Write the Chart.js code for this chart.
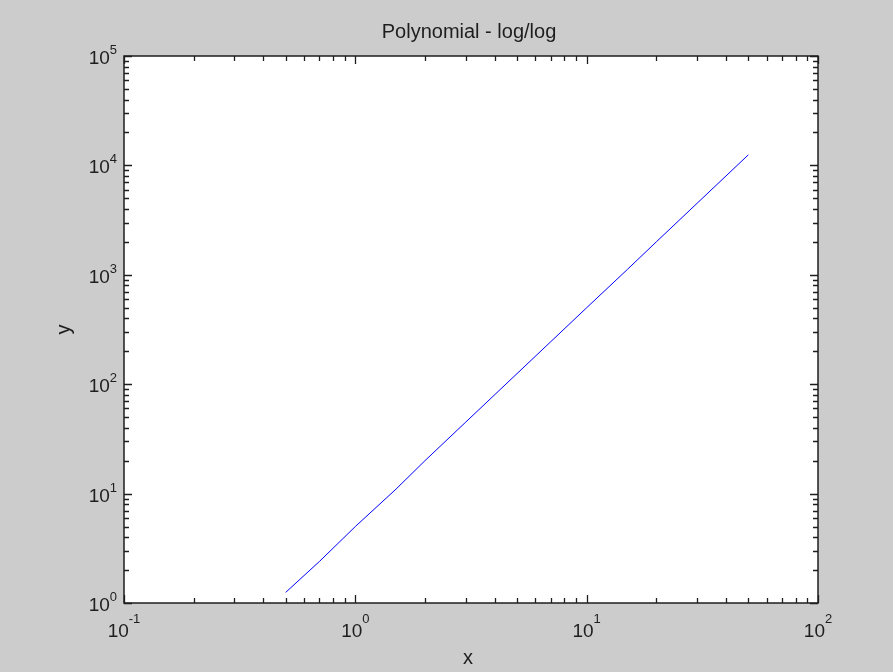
<!DOCTYPE html>
<html>
<head>
<meta charset="utf-8">
<title>Polynomial - log/log</title>
<script src="https://cdn.jsdelivr.net/npm/chart.js@4/dist/chart.umd.min.js"></script>
<style>
  html, body { margin: 0; padding: 0; background: #cccccc; }
  canvas { display: block; }
</style>
</head>
<body>
<canvas id="myChart" width="893" height="672"></canvas>
<script>
// values
const xValues = [0.5, 0.7, 1, 1.5, 2, 3, 5, 7, 10, 15, 20, 30, 50];
const yValues = [1.25, 2.4, 5, 11, 20, 45, 125, 245, 500, 1120, 2000, 4500, 12500];

// decade tick labels (10^n)
const xExponents = [-1, 0, 1, 2];
const yExponents = [0, 1, 2, 3, 4, 5];

const titleText = 'Polynomial - log/log';
const xLabel = 'x';
const yLabel = 'y';

const FONT = '"Liberation Sans", Arial, Helvetica, sans-serif';
const INK = '#1e1e1e';

// minor + major tick values for a log axis
function logTicks(exps) {
  const out = [];
  for (let i = 0; i < exps.length - 1; i++) {
    for (let m = 1; m <= 9; m++) out.push({ v: m * Math.pow(10, exps[i]), major: m === 1 });
  }
  out.push({ v: Math.pow(10, exps[exps.length - 1]), major: true });
  return out;
}

const matlabAxes = {
  id: 'matlabAxes',
  beforeDraw(chart) {
    const { ctx, chartArea: a } = chart;
    ctx.save();
    ctx.fillStyle = '#ffffff';
    ctx.fillRect(a.left, a.top, a.right - a.left, a.bottom - a.top);
    ctx.restore();
  },
  afterDraw(chart) {
    const { ctx, chartArea: a } = chart;
    const xs = chart.scales.x;
    const ys = chart.scales.y;
    ctx.save();
    ctx.strokeStyle = INK;
    ctx.lineWidth = 1.5;
    ctx.strokeRect(a.left, a.top, a.right - a.left, a.bottom - a.top);

    ctx.lineWidth = 1.3;
    ctx.beginPath();
    logTicks(xExponents).forEach(t => {
      const px = Math.round(xs.getPixelForValue(t.v)) + 0.5;
      const len = t.major ? 8 : 5;
      ctx.moveTo(px, a.bottom); ctx.lineTo(px, a.bottom - len);
      ctx.moveTo(px, a.top); ctx.lineTo(px, a.top + len);
    });
    logTicks(yExponents).forEach(t => {
      const py = Math.round(ys.getPixelForValue(t.v)) + 0.5;
      const len = t.major ? 8 : 5;
      ctx.moveTo(a.left, py); ctx.lineTo(a.left + len, py);
      ctx.moveTo(a.right, py); ctx.lineTo(a.right - len, py);
    });
    ctx.stroke();

    // tick labels 10^n
    const base = '19px ' + FONT;
    const sup = '13px ' + FONT;
    ctx.fillStyle = INK;
    ctx.textBaseline = 'alphabetic';
    ctx.textAlign = 'left';
    xExponents.forEach(e => {
      const px = xs.getPixelForValue(Math.pow(10, e));
      ctx.font = base; const w1 = ctx.measureText('10').width;
      ctx.font = sup; const w2 = ctx.measureText(String(e)).width;
      const x0 = px - (w1 + w2) / 2;
      ctx.font = base; ctx.fillText('10', x0, a.bottom + 34);
      ctx.font = sup; ctx.fillText(String(e), x0 + w1, a.bottom + 20);
    });
    yExponents.forEach(e => {
      const py = ys.getPixelForValue(Math.pow(10, e));
      ctx.font = sup; const w2 = ctx.measureText(String(e)).width;
      ctx.font = base; const w1 = ctx.measureText('10').width;
      const xr = a.left - 7;
      ctx.font = base; ctx.fillText('10', xr - w2 - w1, py + 8);
      ctx.font = sup; ctx.fillText(String(e), xr - w2, py - 2);
    });

    // title and axis labels
    ctx.font = '20px ' + FONT;
    ctx.textAlign = 'center';
    ctx.fillText(titleText, (a.left + a.right) / 2 - 2, a.top - 18);
    ctx.fillText(xLabel, (a.left + a.right) / 2 - 3, a.bottom + 61);
    ctx.translate(70, (a.top + a.bottom) / 2);
    ctx.rotate(-Math.PI / 2);
    ctx.fillText(yLabel, 0, 0);
    ctx.restore();
  }
};

const ctx = document.getElementById('myChart').getContext('2d');
const myChart = new Chart(ctx, {
  type: 'line',
  data: {
    datasets: [
      {
        data: xValues.map((x, i) => ({ x: x, y: yValues[i] })),
        borderColor: '#0000ff',
        borderWidth: 1,
        pointRadius: 0,
        fill: false,
        tension: 0,
      },
    ],
  },
  options: {
    responsive: false,
    animation: false,
    devicePixelRatio: 1,
    layout: { padding: { left: 124, right: 75, top: 56, bottom: 69 } },
    plugins: { legend: { display: false }, tooltip: { enabled: false }, title: { display: false } },
    scales: {
      x: { type: 'logarithmic', min: 0.1, max: 100, display: false },
      y: { type: 'logarithmic', min: 1, max: 100000, display: false },
    },
  },
  plugins: [matlabAxes],
});
</script>
</body>
</html>
